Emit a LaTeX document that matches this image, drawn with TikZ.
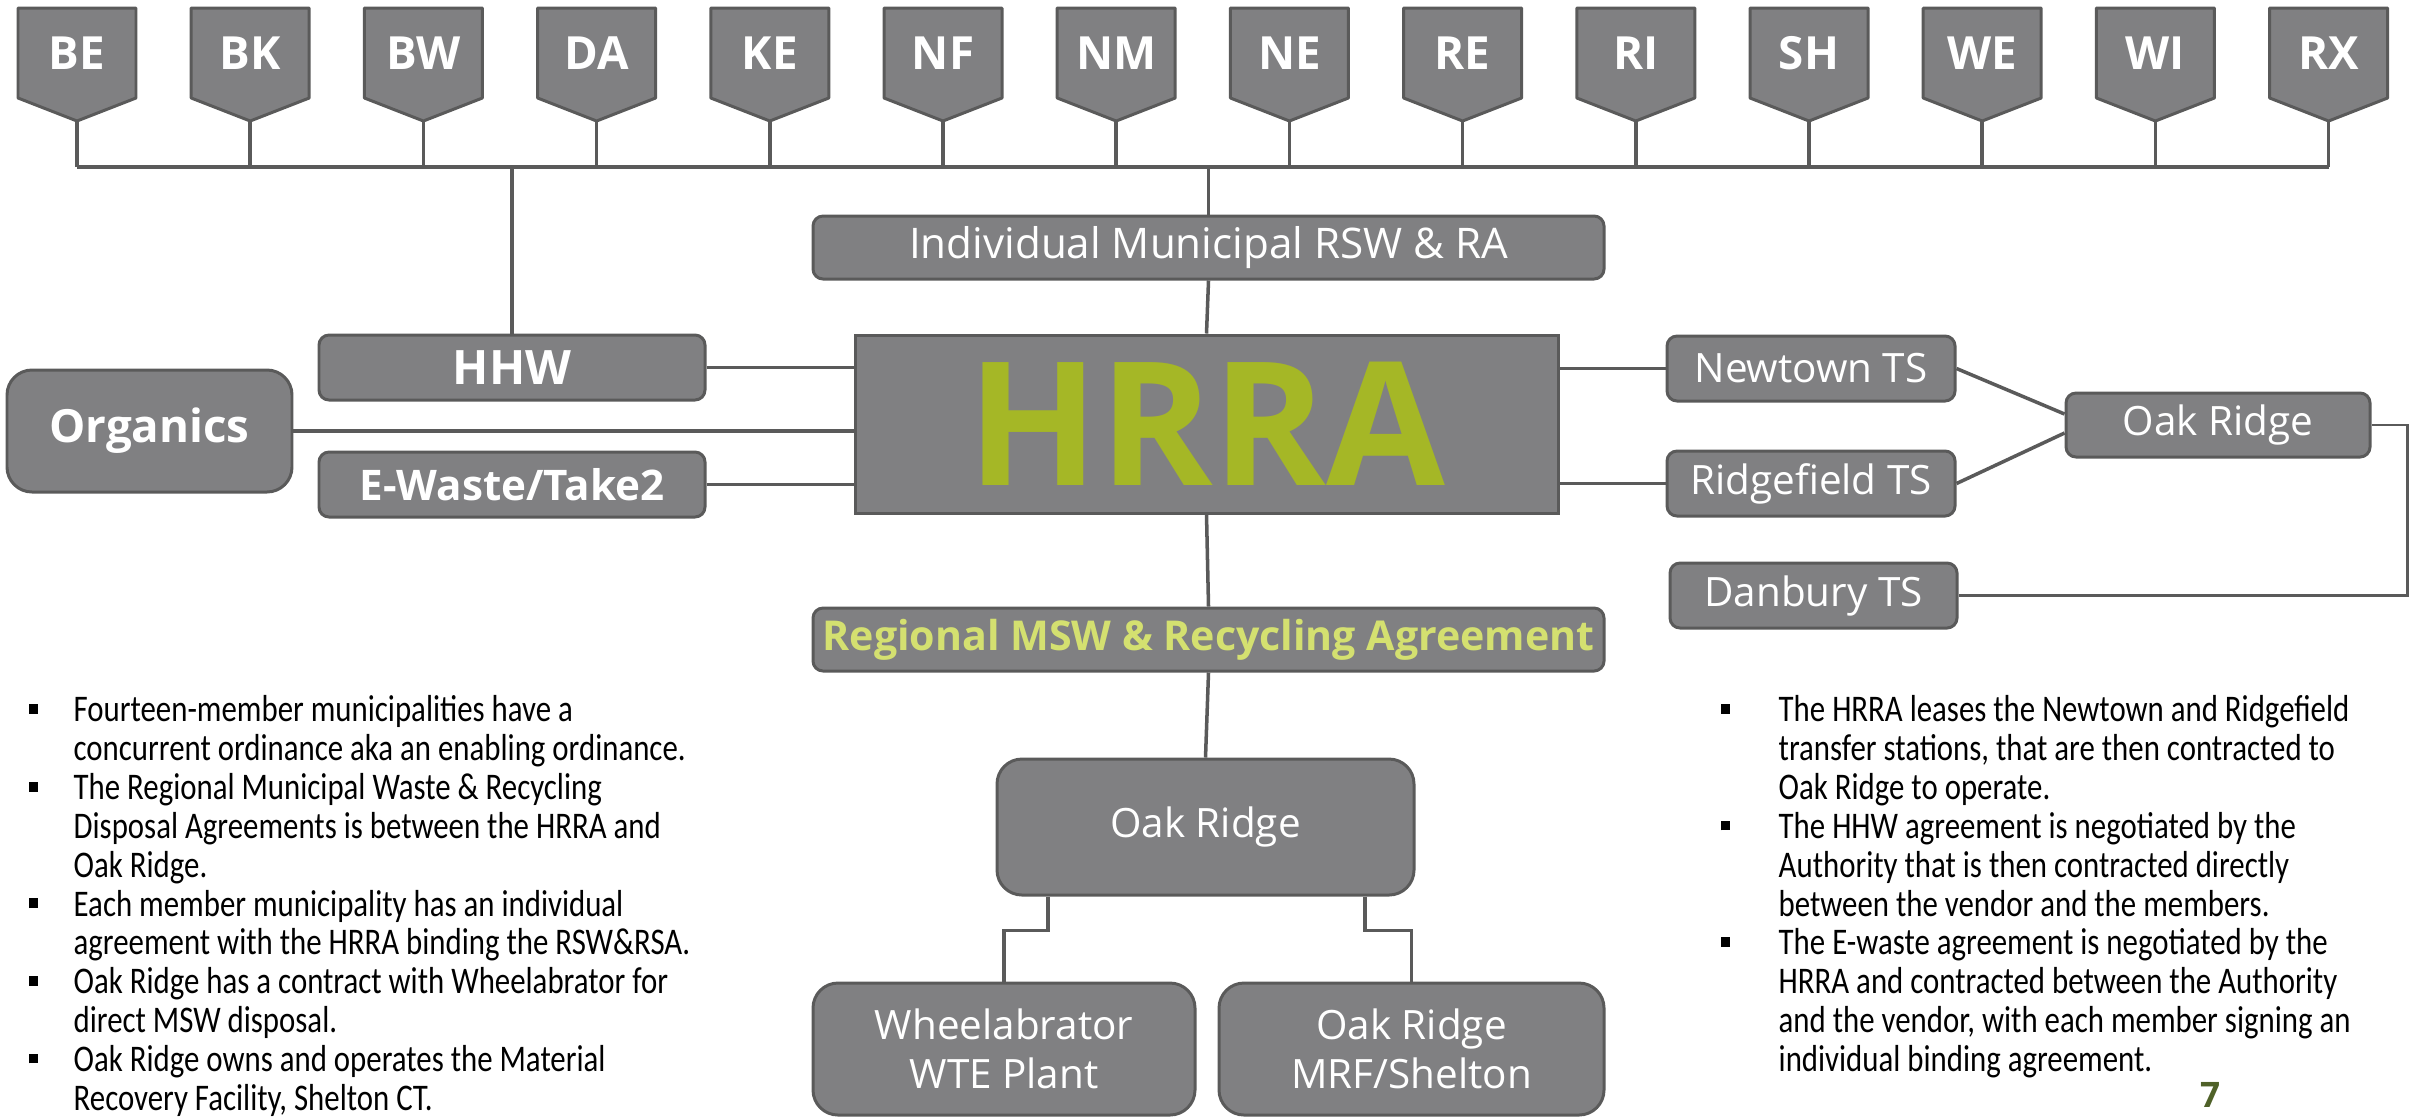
\documentclass[tikz,border=0pt]{standalone}
\usepackage{fontspec}
\setmainfont{Open Sans}
\newfontfamily\notefont[FakeStretch=0.82]{Carlito}
\usetikzlibrary{positioning}

\definecolor{boxgray}{RGB}{128,128,130}
\definecolor{edgegray}{RGB}{90,90,90}
\definecolor{hrragreen}{RGB}{165,183,38}
\definecolor{agreegreen}{RGB}{212,224,112}
\definecolor{pagegreen}{RGB}{79,97,40}

\newcommand{\notebullet}{\rule[2.3pt]{2.7pt}{2.8pt}}

\begin{document}
\begin{tikzpicture}[
    box/.style={draw=edgegray, fill=boxgray, line width=0.85pt, rounded corners=0.1cm,
        text=white, inner sep=0pt, align=center, font=\fontsize{11.5}{14}\selectfont},
    bigbox/.style={box, rounded corners=0.25cm},
    boldbox/.style={box, font=\fontsize{13.5}{15}\selectfont\bfseries},
    badge/.style={minimum width=1.18cm, minimum height=0.90cm, inner sep=0pt,
        text=white, font=\fontsize{13}{14}\selectfont\bfseries},
    badgeshape/.style={fill=boxgray, draw=edgegray, line width=0.85pt, line join=round},
    link/.style={draw=edgegray, line width=1pt},
    bus/.style={draw=edgegray, line width=1.4pt},
    notes/.style={font=\notefont\fontsize{10.7}{11.05}\selectfont, inner sep=0pt, anchor=north west}
]
\useasboundingbox (0,0) rectangle (24.2,-11.16);

% Member towns
\coordinate (busL) at (0.77,-1.67);
\foreach \town [count=\i from 0] in {BE,BK,BW,DA,KE,NF,NM,NE,RE,RI,SH,WE,WI,RX} {
    \pgfmathsetmacro\x{0.77+1.732*\i}
    \filldraw[badgeshape] ({\x-0.59},-0.08) -- ++(1.18,0) -- ++(0,-0.90)
        -- ++(-0.59,-0.23) -- ++(-0.59,0.23) -- cycle;
    \node[badge] (\town) at (\x,-0.53) {\town};
    \draw[link] ([yshift=-0.23cm]\town.south) -- (\town.south |- busL);
}
\draw[bus] (BE.south |- busL) -- (RX.south |- busL);

% Centre column
\node[box, minimum width=7.91cm, minimum height=0.63cm, font=\fontsize{12}{14}\selectfont]
    (indiv) at (12.085,-2.475) {Individual Municipal RSW \& RA};
\node[draw=edgegray, fill=boxgray, line width=0.85pt, minimum width=7.03cm, minimum height=1.78cm,
    inner sep=0pt, text=hrragreen, font=\fontsize{49}{50}\selectfont\bfseries]
    (hrra) at (12.065,-4.24) {HRRA};
\node[box, minimum width=7.91cm, minimum height=0.63cm, text=agreegreen,
    font=\fontsize{11.7}{14}\selectfont\bfseries]
    (regional) at (12.085,-6.395) {Regional MSW \& Recycling Agreement};
\node[bigbox, minimum width=4.17cm, minimum height=1.36cm] (oakc) at (12.055,-8.27) {Oak Ridge};
\node[bigbox, minimum width=3.82cm, minimum height=1.32cm] (wheel) at (10.04,-10.49) {Wheelabrator\\WTE Plant};
\node[bigbox, minimum width=3.85cm, minimum height=1.32cm] (mrf) at (14.115,-10.49) {Oak Ridge\\MRF/Shelton};

% Left side
\node[boldbox, minimum width=3.86cm, minimum height=0.65cm] (hhw) at (5.12,-3.675) {HHW};
\node[boldbox, bigbox, minimum width=2.85cm, minimum height=1.22cm,
    font=\fontsize{13}{15}\selectfont\bfseries] (org) at (1.495,-4.31) {Organics};
\node[boldbox, minimum width=3.86cm, minimum height=0.65cm,
    font=\fontsize{12}{14}\selectfont\bfseries] (ewaste) at (5.12,-4.845) {E-Waste/Take2};

% Right side
\node[box, minimum width=2.88cm, minimum height=0.65cm] (newt) at (18.11,-3.685) {Newtown TS};
\node[box, minimum width=2.88cm, minimum height=0.65cm] (ridge) at (18.11,-4.835) {Ridgefield TS};
\node[box, minimum width=3.04cm, minimum height=0.64cm] (oakr) at (22.18,-4.25) {Oak Ridge};
\node[box, minimum width=2.87cm, minimum height=0.65cm] (danb) at (18.135,-5.955) {Danbury TS};

% Connectors
\draw[link] (hhw.north) -- (hhw.north |- busL);
\draw[link] (indiv.north) -- (indiv.north |- busL);
\draw[link] (indiv.south) -- (hrra.north);
\draw[link] (hrra.south) -- (regional.north);
\draw[link] (regional.south) -- (oakc.north);
\draw[link] (hhw.east) -- (hhw.east -| hrra.west);
\draw[link] (org.east) -- (org.east -| hrra.west);
\draw[link] (ewaste.east) -- (ewaste.east -| hrra.west);
\draw[link] (hrra.east |- newt.west) -- (newt.west);
\draw[link] (hrra.east |- ridge.west) -- (ridge.west);
\draw[link] (newt.east) -- ([yshift=0.11cm]oakr.west);
\draw[link] (ridge.east) -- ([yshift=-0.08cm]oakr.west);
\draw[draw=edgegray, line width=0.8pt] (oakr.east) -- ++(0.36,0) |- (danb.east);
\draw[link] ([xshift=-1.575cm]oakc.south) -- ++(0,-0.34) -| (wheel.north);
\draw[link] ([xshift=1.595cm]oakc.south) -- ++(0,-0.34) -| (mrf.north);

% Notes
\node[notes] (leftnotes) at (0.28,-6.94) {%
\begin{tabular}{@{}l@{\hspace{10.1pt}}l@{}}
\notebullet & Fourteen-member municipalities have a\\
 & concurrent ordinance aka an enabling ordinance.\\
\notebullet & The Regional Municipal Waste \& Recycling\\
 & Disposal Agreements is between the HRRA and\\
 & Oak Ridge.\\
\notebullet & Each member municipality has an individual\\
 & agreement with the HRRA binding the RSW\&RSA.\\
\notebullet & Oak Ridge has a contract with Wheelabrator for\\
 & direct MSW disposal.\\
\notebullet & Oak Ridge owns and operates the Material\\
 & Recovery Facility, Shelton CT.
\end{tabular}};
\node[notes] (rightnotes) at (17.20,-6.94) {%
\begin{tabular}{@{}l@{\hspace{13.8pt}}l@{}}
\notebullet & The HRRA leases the Newtown and Ridgefield\\
 & transfer stations, that are then contracted to\\
 & Oak Ridge to operate.\\
\notebullet & The HHW agreement is negotiated by the\\
 & Authority that is then contracted directly\\
 & between the vendor and the members.\\
\notebullet & The E-waste agreement is negotiated by the\\
 & HRRA and contracted between the Authority\\
 & and the vendor, with each member signing an\\
 & individual binding agreement.
\end{tabular}};
\node[text=pagegreen, font=\fontsize{10}{11}\selectfont\bfseries] (page) at (22.10,-10.95) {7};

\end{tikzpicture}
\end{document}
